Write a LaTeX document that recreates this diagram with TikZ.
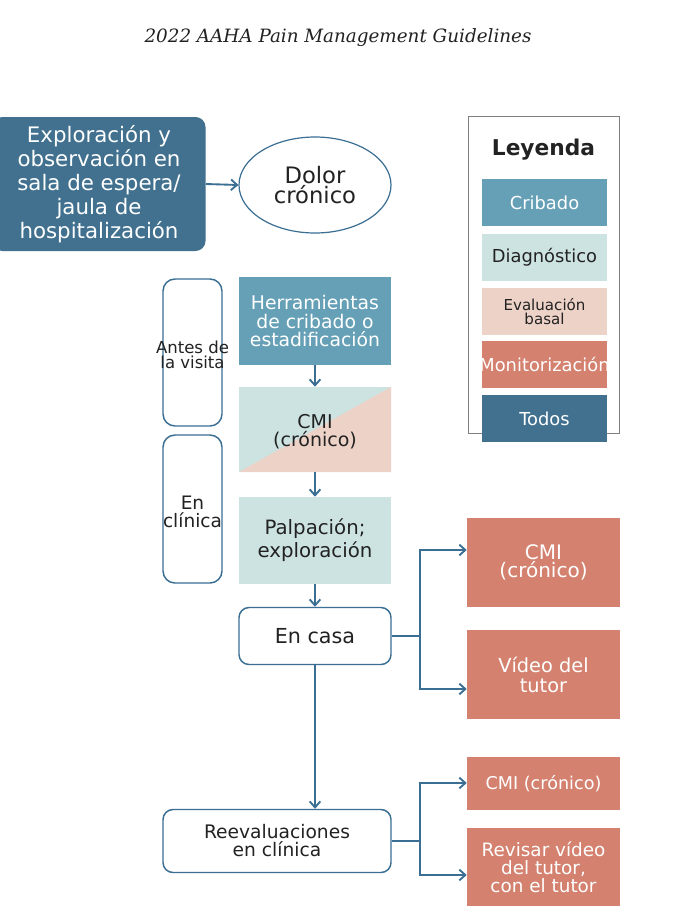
\documentclass[tikz,border=0pt]{standalone}
\usepackage{fontspec}
\setmainfont{DejaVu Sans}
\newfontfamily\titlefont{DejaVu Serif}
\usetikzlibrary{arrows.meta,shapes.geometric}
\definecolor{dkblue}{HTML}{41718F}
\definecolor{cribado}{HTML}{65A0B7}
\definecolor{diag}{HTML}{CDE3E2}
\definecolor{basal}{HTML}{EDD2C7}
\definecolor{monit}{HTML}{D4826F}
\definecolor{lineblue}{HTML}{3A6E92}
\definecolor{txt}{HTML}{222222}
\definecolor{frame}{HTML}{808080}
\newcommand{\fpx}[2]{\fontsize{#1}{#2}\selectfont}
\begin{document}
\begin{tikzpicture}[x=0.75pt,y=-0.75pt,
  box/.style={rectangle,inner sep=0pt,align=center,minimum width=114pt},
  rbox/.style={box,draw=lineblue,line width=1.1pt,fill=white,rounded corners=7.5pt,text=txt},
  sidebox/.style={rectangle,draw=lineblue,line width=1.1pt,rounded corners=9pt,minimum width=44.25pt,minimum height=110.25pt},
  monbox/.style={box,fill=monit,text=white,minimum width=114.75pt},
  legbox/.style={box,minimum width=93.75pt,minimum height=35.25pt},
  conn/.style={draw=lineblue,line width=1.4pt},
  arr/.style={conn,-{Straight Barb[length=4.5pt,width=8pt,line width=1.4pt]}}
]
\useasboundingbox (0,0) rectangle (681,910);
\fill[white] (0,0) rectangle (681,910);

% title
\node[text=txt,font=\titlefont\itshape\fpx{13.75pt}{15pt}] (title) at (338,38) {2022 AAHA Pain Management Guidelines};

% top row
\node[box,fill=dkblue,text=white,rounded corners=7.5pt,minimum width=159.75pt,minimum height=100.5pt,font=\fpx{16pt}{18pt}] (expl) at (99,184)
  {Exploración y\\observación en\\sala de espera/\\jaula de\\hospitalización};
\node[ellipse,draw=lineblue,line width=0.9pt,minimum width=114pt,minimum height=72pt,inner sep=0pt,align=center,text=txt,font=\fpx{17pt}{15.5pt}] (dolor) at (315,185) {Dolor\\crónico};

% side boxes
\node[sidebox] (antes) at (192.5,352.5) {};
\node[text=txt,align=center,font=\fpx{12.4pt}{11.5pt}] (antesT) at (192.5,355) {Antes de\\la visita};
\node[sidebox,minimum height=111pt] (enclin) at (192.5,509) {};
\node[text=txt,align=center,font=\fpx{13.9pt}{13.5pt}] (enclinT) at (192.5,512) {En\\clínica};

% central column
\node[box,fill=cribado,text=white,minimum height=66pt,font=\fpx{14.1pt}{13.6pt}] (herr) at (315,321)
  {Herramientas\\de cribado o\\estadificación};
\node[box,fill=diag,minimum height=63.75pt,
  path picture={\fill[basal] (path picture bounding box.south west) -- (path picture bounding box.north east) -- (path picture bounding box.south east) -- cycle;}] (cmi1) at (315,429.5) {};
\node[text=txt,align=center,font=\fpx{14.25pt}{13.5pt}] (cmi1T) at (315,432) {CMI\\(crónico)};
\node[box,fill=diag,text=txt,minimum height=65.25pt,font=\fpx{14.8pt}{17.25pt}] (palp) at (315,540.5) {Palpación;\\exploración};
\node[rbox,minimum height=42.75pt,font=\fpx{15.5pt}{15pt}] (casa) at (315,636) {En casa};
\node[rbox,minimum width=171pt,minimum height=47.25pt,font=\fpx{14pt}{13.5pt}] (reev) at (277,841) {Reevaluaciones\\en clínica};

% monitoring boxes
\node[monbox,minimum height=66.75pt,font=\fpx{15pt}{13.5pt}] (cmi2) at (543.5,562.5) {CMI\\(crónico)};
\node[monbox,minimum height=66.75pt,font=\fpx{14.5pt}{15pt}] (video) at (543.5,674.5) {Vídeo del\\tutor};
\node[monbox,minimum height=39.75pt,font=\fpx{13.2pt}{14pt}] (cmi3) at (543.5,783.5) {CMI (crónico)};
\node[monbox,minimum height=58.5pt,font=\fpx{13.8pt}{13.5pt}] (rev) at (543.5,867) {Revisar vídeo\\del tutor,\\con el tutor};

% legend
\node[rectangle,draw=frame,line width=0.7pt,inner sep=0pt,minimum width=113.25pt,minimum height=237.75pt] (legend) at (543.5,274.5) {};
\node[text=txt,font=\bfseries\fpx{16.3pt}{15pt}] (legT) at (543.5,150) {Leyenda};
\node[legbox,fill=cribado,text=white,font=\fpx{13.4pt}{12pt}] (l1) at (544.5,202.5) {Cribado};
\node[legbox,fill=diag,text=txt,font=\fpx{13.4pt}{12pt}] (l2) at (544.5,257.5) {Diagnóstico};
\node[legbox,fill=basal,text=txt,font=\fpx{11.3pt}{10.5pt}] (l3) at (544.5,311.5) {Evaluación\\basal};
\node[legbox,fill=monit] (l4) at (544.5,364.5) {};
\node[text=white,inner sep=0pt,font=\fpx{13.4pt}{12pt}] (l4T) at (l4) {Monitorización};
\node[legbox,fill=dkblue,text=white,font=\fpx{13.4pt}{12pt}] (l5) at (544.5,418.5) {Todos};

% connectors
\draw[arr] (expl.east) -- (dolor.west);
\draw[arr] (herr) -- (cmi1);
\draw[arr] (cmi1) -- (palp);
\draw[arr] (palp) -- (casa);
\draw[arr] (casa) -- (reev.north -| casa);
\coordinate (x1) at (420,0);
\coordinate (j1) at (casa.east -| x1);
\coordinate (y1) at (0,550);
\coordinate (y2) at (0,689);
\draw[conn] (casa.east) -- (j1);
\draw[arr] (j1) |- (cmi2.west |- y1);
\draw[arr] (j1) |- (video.west |- y2);
\coordinate (j2) at (reev.east -| x1);
\coordinate (y3) at (0,783);
\coordinate (y4) at (0,875);
\draw[conn] (reev.east) -- (j2);
\draw[arr] (j2) |- (cmi3.west |- y3);
\draw[arr] (j2) |- (rev.west |- y4);
\end{tikzpicture}
\end{document}
